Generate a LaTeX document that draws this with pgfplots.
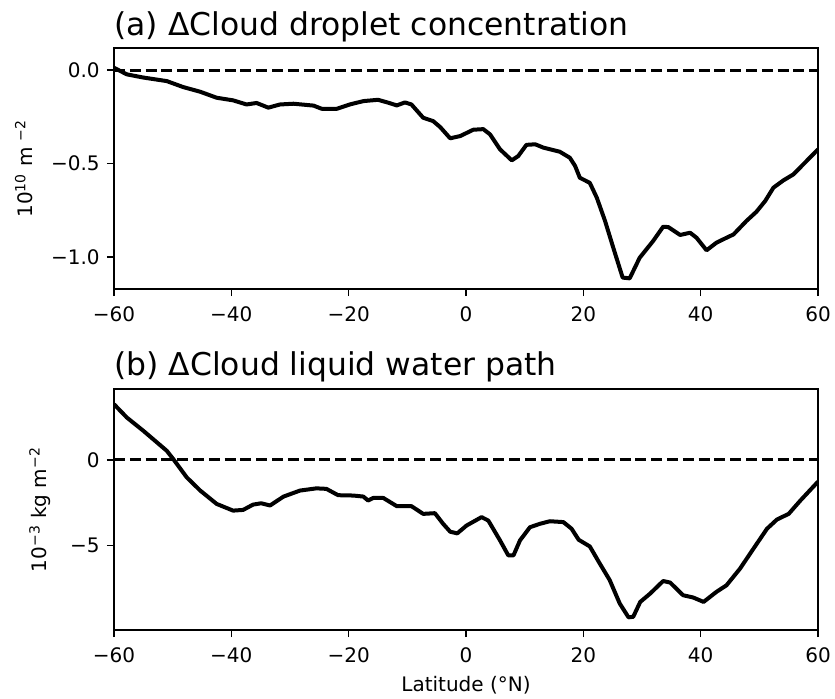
\documentclass[border=0pt]{standalone}
\usepackage{pgfplots}
\pgfplotsset{compat=1.18}
\usepackage{fontspec}
\setmainfont{DejaVu Sans}
\begin{document}
\begin{tikzpicture}
\pgfplotsset{
  panel/.style={
    scale only axis, width=352pt, height=120.5pt,
    xmin=-60, xmax=60,
    axis line style={line width=0.8pt},
    every tick/.style={line width=0.8pt, black},
    tick align=outside, major tick length=3.5pt,
    xtick pos=bottom, ytick pos=left,
    xtick={-60,-40,-20,0,20,40,60},
    xticklabels={−60,−40,−20,0,20,40,60},
    tick label style={font=\fontsize{10}{12}\selectfont, inner sep=0pt},
    xticklabel style={yshift=-5pt},
    yticklabel style={xshift=-3.5pt},
    label style={font=\fontsize{10}{12}\selectfont},
    xlabel style={yshift=-3.5pt},
    title style={at={(0,1)}, anchor=base west, yshift=0.5pt, inner sep=0pt, font=\fontsize{15.7}{18}\selectfont},
  }
}
\path[use as bounding box] (-57pt,-34pt) rectangle (360.5pt,315pt);
\begin{axis}[panel, at={(0,170.5pt)},
  ymin=-1.171, ymax=0.118,
  ytick={-1,-0.5,0}, yticklabels={−1.0,−0.5,0.0},
  ylabel={10\textsuperscript{10} m \textsuperscript{−2}},
  ylabel style={yshift=5.5pt},
  title={(a) ΔCloud droplet concentration}]
\addplot[black, line width=1.5pt, dash pattern=on 5.5pt off 2.4pt] coordinates {(-60,0) (60,0)};
\addplot[black, line width=2pt, line join=round] coordinates {
(-60,0.012) (-57.8,-0.023) (-55,-0.04) (-51,-0.059) (-48.2,-0.091) (-45.3,-0.116)
(-42.5,-0.148) (-39.7,-0.162) (-37.4,-0.184) (-35.7,-0.176) (-33.7,-0.201) (-31.7,-0.184)
(-29.4,-0.18) (-26.0,-0.19) (-24.6,-0.207) (-22.0,-0.207) (-19.8,-0.184) (-17.5,-0.166)
(-15,-0.159) (-13.2,-0.175) (-11.8,-0.189) (-10.4,-0.173) (-9.3,-0.184) (-7.3,-0.255)
(-5.6,-0.273) (-4.4,-0.305) (-2.7,-0.365) (-1.0,-0.353) (1.25,-0.319) (2.95,-0.316)
(4.1,-0.344) (5.8,-0.424) (7.8,-0.483) (8.9,-0.46) (10.3,-0.40) (11.8,-0.397)
(13.2,-0.415) (16.0,-0.437) (17.7,-0.469) (18.6,-0.513) (19.4,-0.576) (21.1,-0.603)
(22.3,-0.683) (23.7,-0.807) (25.1,-0.95) (26.7,-1.11) (27.9,-1.114) (29.6,-1.004)
(31.9,-0.914) (33.6,-0.838) (34.5,-0.84) (36.5,-0.882) (38.2,-0.87) (39.3,-0.897)
(41.0,-0.964) (42.7,-0.923) (44.4,-0.897) (45.6,-0.879) (47.8,-0.807) (49.5,-0.758)
(51.0,-0.70) (52.4,-0.629) (54.1,-0.59) (55.8,-0.558) (57.5,-0.504) (60,-0.424)
};
\end{axis}
\begin{axis}[panel, at={(0,0)},
  ymin=-9.94, ymax=4.13,
  ytick={-5,0}, yticklabels={−5,0},
  ylabel={10\textsuperscript{−3} kg m\textsuperscript{−2}},
  ylabel style={yshift=6pt},
  xlabel={Latitude (°N)},
  title={(b) ΔCloud liquid water path}]
\addplot[black, line width=1.5pt, dash pattern=on 5.5pt off 2.4pt] coordinates {(-60,0) (60,0)};
\addplot[black, line width=2pt, line join=round] coordinates {
(-60,3.24) (-57.8,2.46) (-55,1.69) (-51,0.52) (-49.9,0.04) (-47.6,-1.03)
(-45.3,-1.80) (-42.5,-2.58) (-39.7,-2.97) (-38,-2.93) (-36.3,-2.62) (-34.9,-2.54)
(-33.4,-2.67) (-31.1,-2.15) (-28.3,-1.80) (-25.5,-1.67) (-23.8,-1.70) (-21.8,-2.07)
(-19.2,-2.09) (-17.5,-2.15) (-16.7,-2.38) (-15.8,-2.23) (-14.1,-2.23) (-11.8,-2.71)
(-9.3,-2.71) (-7.3,-3.16) (-5.3,-3.12) (-3.9,-3.74) (-2.7,-4.20) (-1.5,-4.30)
(0.1,-3.84) (2.65,-3.35) (3.8,-3.55) (5.8,-4.71) (7.2,-5.58) (8.1,-5.58)
(9.2,-4.71) (10.9,-3.94) (12.6,-3.74) (14.3,-3.59) (16.6,-3.64) (18.0,-4.03)
(19.2,-4.67) (21.1,-5.06) (22.8,-6.06) (24.5,-7.03) (26.2,-8.39) (27.7,-9.20)
(28.5,-9.17) (29.7,-8.30) (31.4,-7.81) (33.6,-7.08) (34.8,-7.17) (37.0,-7.91)
(38.7,-8.04) (40.5,-8.30) (42.7,-7.71) (44.4,-7.33) (46.7,-6.36) (49.0,-5.19)
(51.3,-4.03) (53.0,-3.49) (55.0,-3.16) (57.0,-2.38) (60,-1.28)
};
\end{axis}
\end{tikzpicture}
\end{document}
